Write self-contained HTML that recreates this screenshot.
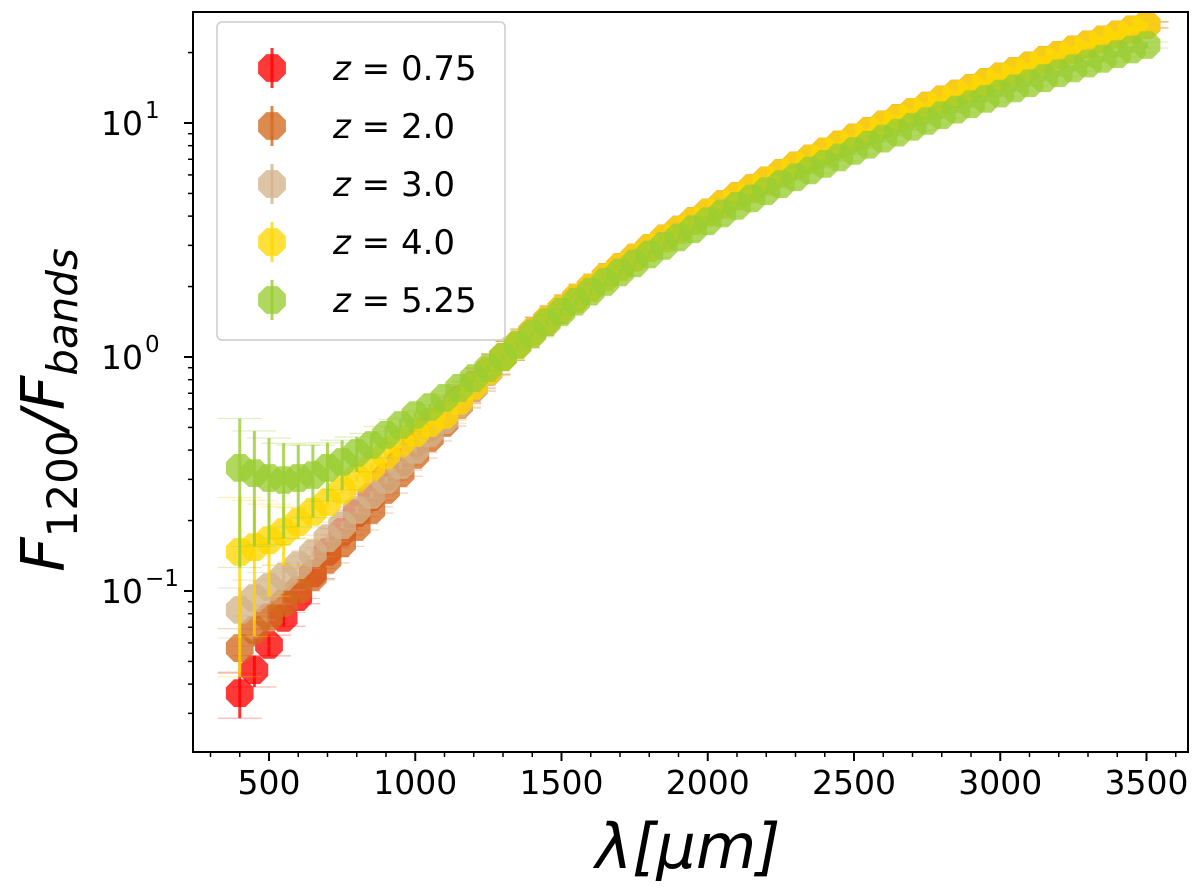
<!DOCTYPE html>
<html><head><meta charset="utf-8">
<style>
body{margin:0;background:#fff;}
svg text{font-family:"DejaVu Sans","Liberation Sans",sans-serif;}
</style></head>
<body>
<svg id="chart" width="1200" height="890" xmlns="http://www.w3.org/2000/svg">
<rect width="1200" height="890" fill="#fff"/>
<g id="plot"></g>
</svg>
<script>
const lambdas=[400,450,500,550,600,650,700,750,800,850,900,950,1000,1050,1100,1150,1200,1250,1300,1350,1400,1450,1500,1550,1600,1650,1700,1750,1800,1850,1900,1950,2000,2050,2100,2150,2200,2250,2300,2350,2400,2450,2500,2550,2600,2650,2700,2750,2800,2850,2900,2950,3000,3050,3100,3150,3200,3250,3300,3350,3400,3450,3500];
const upperWarm=[1.0,1.133,1.277,1.434,1.604,1.787,1.984,2.196,2.424,2.667,2.928,3.205,3.499,3.812,4.144,4.496,4.868,5.260,5.675,6.112,6.572,7.056,7.562,8.094,8.653,9.240,9.849,10.49,11.16,11.85,12.58,13.34,14.12,14.94,15.79,16.68,17.60,18.55,19.54,20.57,21.63,22.73,23.88,25.05,26.27];
const upperGreen=[1.0,1.124,1.258,1.403,1.559,1.725,1.904,2.094,2.297,2.513,2.743,2.985,3.243,3.515,3.802,4.105,4.423,4.758,5.109,5.477,5.864,6.267,6.689,7.133,7.593,8.074,8.575,9.097,9.638,10.20,10.79,11.40,12.03,12.68,13.36,14.06,14.79,15.54,16.32,17.13,17.96,18.81,19.70,20.61,21.54];
const lowRed=[0.0366,0.0459,0.0588,0.0767,0.0942,0.119,0.147,0.179,0.215,0.252,0.307,0.356,0.429,0.502,0.565,0.655,0.759,0.871];
const lowBrown=[0.0570,0.0681,0.0774,0.0889,0.101,0.115,0.136,0.160,0.188,0.222,0.270,0.319,0.381,0.451,0.522,0.624,0.738,0.863];
const lowTan=[0.0830,0.0933,0.104,0.115,0.129,0.145,0.168,0.191,0.222,0.257,0.298,0.345,0.401,0.473,0.538,0.630,0.738,0.863];
const lowYellow=[0.147,0.154,0.165,0.179,0.197,0.218,0.240,0.270,0.304,0.339,0.381,0.429,0.473,0.522,0.565,0.649,0.752,0.871];
const lowGreen=[0.336,0.319,0.304,0.298,0.304,0.313,0.336,0.356,0.389,0.421,0.465,0.512,0.565,0.611,0.668,0.738,0.813,0.897];
const errRed=[0.008,0.007,0.006,0.006,0.006,0.006,0.006];
const errBrown=[0.012,0.010,0.009,0.008,0.008];
const errTan=[0.020,0.018,0.016,0.014];
const errYellow=[0.104,0.09,0.07,0.05,0.03];
const errGreen=[0.21,0.164,0.146,0.13,0.116,0.107,0.094,0.085,0.066,0.05,0.04,0.03];
const zvals=["0.75","2.0","3.0","4.0","5.25"];
const colors=["#ff0000","#d2691e","#d2b48c","#ffd700","#9acd32"];
const xTicks=[500,1000,1500,2000,2500,3000,3500];
const yTicks=[-1,0,1];

const NS="http://www.w3.org/2000/svg";
const L=193,R=1188,T=12,B=752;
function X(v){return 269+(v-500)*0.2925;}
function Y(v){return 357-234*Math.log10(v);}
const g=document.getElementById('plot');
function el(tag,attrs,parent){const e=document.createElementNS(NS,tag);for(const k in attrs)e.setAttribute(k,attrs[k]);(parent||g).appendChild(e);return e;}
function oct(cx,cy,r){let p=[];for(let i=0;i<8;i++){const a=Math.PI/8+i*Math.PI/4;p.push((cx+r*Math.cos(a)).toFixed(1)+","+(cy+r*Math.sin(a)).toFixed(1));}return p.join(" ");}

const series=[lowRed.concat(upperWarm),lowBrown.concat(upperWarm),lowTan.concat(upperWarm),lowYellow.concat(upperWarm),lowGreen.concat(upperGreen)];
const errs=[errRed,errBrown,errTan,errYellow,errGreen];

const clip=el('clipPath',{id:'cp'});
el('rect',{x:L,y:T,width:R-L,height:B-T},clip);
series.forEach((vals,si)=>{
  const sg=el('g',{'clip-path':'url(#cp)'});
  
  
  vals.forEach((v,i)=>{
    const x=X(lambdas[i]),y=Y(v);
    const e=errs[si][i]!==undefined?errs[si][i]:v*0.03;
    const y1=Y(v+e),y2=Y(Math.max(v-e,0.001));
    const bar=el('line',{x1:x,x2:x,y1:y1,y2:y2,stroke:colors[si],'stroke-width':3,opacity:0.8},sg);
    
    
    el('line',{x1:x-22,x2:x+22,y1:y1,y2:y1,stroke:colors[si],'stroke-width':1.2,opacity:0.3},sg);
    el('line',{x1:x-22,x2:x+22,y1:y2,y2:y2,stroke:colors[si],'stroke-width':1.2,opacity:0.3},sg);
    const m=el('polygon',{points:oct(x,y,15),fill:colors[si],opacity:0.78},sg);
    
    
  });
});

const frame=el('rect',{x:L,y:T,width:R-L,height:B-T,fill:'none',stroke:'#000','stroke-width':2});


for(let v=300;v<=3600;v+=100){const x=X(v);if(x<L||x>R)continue;const maj=xTicks.includes(v);el('line',{x1:x,x2:x,y1:B,y2:B+(maj?9:5),stroke:'#000','stroke-width':maj?2:1.5});}
xTicks.forEach(v=>{const t=el('text',{x:X(v),y:B+42,'font-size':33,'text-anchor':'middle'});t.textContent=v;

});
for(let d=-2;d<=1;d++){for(let k=1;k<=9;k++){const v=k*Math.pow(10,d);const y=Y(v);if(y<T||y>B)continue;el('line',{x1:L,x2:L-(k==1?9:5),y1:y,y2:y,stroke:'#000','stroke-width':k==1?2:1.5});}}
yTicks.forEach(p=>{const yy=Y(Math.pow(10,p));const t=el('text',{x:L-50,y:yy+12,'font-size':33,'text-anchor':'end'});t.textContent='10';


const s=el('text',{x:L-48,y:yy-5,'font-size':23,'text-anchor':'start'});s.textContent=p<0?'\u2212'+Math.abs(p):String(p);});
const xt=el('text',{x:688,y:868,'font-size':62,'text-anchor':'middle','font-style':'italic'});xt.textContent='λ[μm]';


const yt=el('text',{transform:'translate(64,410) rotate(-90)','font-size':60,'text-anchor':'middle','font-style':'italic'});
yt.innerHTML='F<tspan font-size="42" font-style="normal" dy="13">1200</tspan><tspan dy="-13">/F</tspan><tspan font-size="42" dy="13">bands</tspan>';


const lg=el('g',{});


el('rect',{x:217,y:22,width:288,height:318,rx:5,fill:'#fff','fill-opacity':0.85,stroke:'#ccc','stroke-width':1.5},lg);
zvals.forEach((zv,i)=>{const y=68+58*i;
const en=el('g',{},lg);


el('line',{x1:272,x2:272,y1:y-20,y2:y+20,stroke:colors[i],'stroke-width':3,opacity:0.8},en);
el('polygon',{points:oct(272,y,15),fill:colors[i],opacity:0.78},en);
const t=el('text',{x:333,y:y+12,'font-size':34},en);
t.innerHTML='<tspan font-style="italic">z</tspan> = '+zv;});
</script>
</body></html>
